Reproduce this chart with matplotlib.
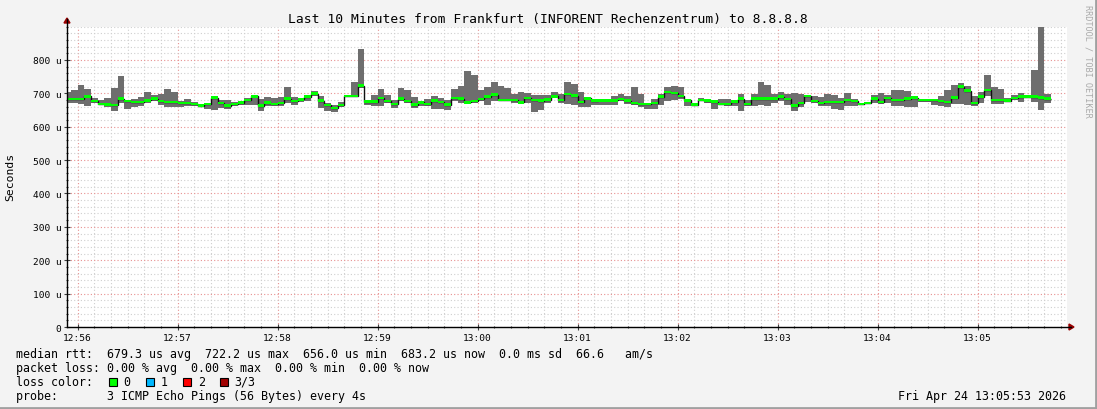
import numpy as np
import matplotlib
matplotlib.use('Agg')
import matplotlib.pyplot as plt
from matplotlib.lines import Line2D
from matplotlib.patches import Rectangle, Polygon
from matplotlib.ticker import MultipleLocator, FixedLocator

# ---------------- data (microseconds) ----------------
step_seconds = 4
first_edge_s = -8          # seconds relative to 12:56:00
rtt_max = [703, 710, 725, 713, 686, 680, 686, 716, 752, 680, 682, 688, 703, 696, 698, 713, 703, 676, 682, 674,
           668, 670, 690, 680, 680, 675, 678, 686, 695, 683, 689, 686, 689, 720, 689, 686, 695, 707, 692, 672,
           665, 674, 694, 734, 833, 680, 695, 713, 695, 680, 716, 710, 689, 678, 682, 692, 686, 680, 713, 722,
           767, 756, 710, 719, 734, 722, 716, 698, 704, 701, 696, 696, 696, 704, 698, 734, 728, 704, 689, 682,
           682, 682, 692, 698, 692, 719, 698, 672, 682, 698, 719, 722, 719, 682, 672, 686, 682, 680, 682, 682,
           680, 698, 680, 698, 734, 725, 698, 704, 698, 701, 698, 695, 692, 689, 698, 695, 686, 701, 683, 671,
           674, 695, 701, 695, 710, 710, 707, 692, 683, 683, 683, 692, 710, 725, 731, 722, 692, 704, 755, 719,
           713, 686, 695, 701, 695, 770, 900, 698]
rtt_median = [683, 683, 683, 691, 677, 668, 667, 665, 684, 677, 674, 674, 679, 684, 677, 674, 674, 671, 671, 668,
              663, 668, 687, 671, 663, 668, 672, 680, 691, 663, 672, 668, 671, 684, 677, 682, 690, 699, 678, 665,
              656, 665, 692, 692, 723, 675, 675, 686, 677, 668, 684, 677, 666, 673, 668, 678, 674, 666, 686, 684,
              673, 677, 683, 690, 696, 680, 680, 680, 673, 686, 680, 678, 681, 691, 680, 698, 693, 674, 685, 678,
              679, 679, 679, 683, 678, 671, 668, 668, 671, 690, 704, 701, 692, 679, 666, 680, 678, 675, 668, 668,
              675, 684, 668, 684, 684, 684, 684, 690, 683, 663, 671, 692, 677, 671, 674, 674, 674, 680, 677, 668,
              671, 684, 674, 686, 680, 680, 684, 687, 680, 680, 680, 677, 674, 687, 720, 708, 671, 690, 710, 680,
              680, 678, 686, 690, 690, 690, 687, 684]
rtt_min = [670, 670, 668, 663, 671, 666, 660, 648, 672, 654, 660, 662, 670, 676, 666, 658, 658, 658, 662, 662,
           659, 654, 651, 656, 653, 663, 666, 665, 665, 648, 663, 663, 663, 670, 665, 674, 677, 692, 656, 648,
           645, 658, 689, 689, 715, 666, 662, 662, 671, 656, 678, 672, 656, 663, 663, 654, 652, 650, 676, 672,
           668, 672, 678, 665, 676, 676, 676, 671, 668, 672, 645, 650, 672, 686, 672, 668, 666, 660, 660, 666,
           666, 666, 666, 676, 668, 666, 660, 654, 654, 665, 678, 680, 682, 663, 663, 678, 671, 654, 666, 663,
           663, 648, 663, 663, 666, 663, 672, 676, 666, 648, 658, 674, 672, 663, 663, 654, 651, 663, 663, 665,
           668, 672, 668, 672, 663, 663, 660, 660, 675, 673, 666, 663, 658, 668, 668, 665, 663, 671, 693, 668,
           668, 675, 681, 675, 686, 675, 651, 670]

x_tick_labels = ['12:56', '12:57', '12:58', '12:59', '13:00', '13:01', '13:02', '13:03', '13:04', '13:05']
y_tick_values = [0, 100, 200, 300, 400, 500, 600, 700, 800]
y_tick_labels = ['0', '100 u', '200 u', '300 u', '400 u', '500 u', '600 u', '700 u', '800 u']

title = 'Last 10 Minutes from Frankfurt (INFORENT Rechenzentrum) to 8.8.8.8'
legend_lines = [
    'median rtt:  679.3 us avg  722.2 us max  656.0 us min  683.2 us now  0.0 ms sd  66.6   am/s',
    'packet loss: 0.00 % avg  0.00 % max  0.00 % min  0.00 % now',
    'loss color:',
    'probe:       3 ICMP Echo Pings (56 Bytes) every 4s',
]
loss_labels = ['0', '1', '2', '3/3']
loss_colors = ['#00ff00', '#00b8ff', '#ff0000', '#a00000']
date_text = 'Fri Apr 24 13:05:53 2026'

# ---------------- layout ----------------
W, H = 1097, 410
BG = '#f3f3f3'
MONO = 'DejaVu Sans Mono'
LEG_FS = 8.4

fig = plt.figure(figsize=(W / 100, H / 100), dpi=100, facecolor=BG)

def fx(x):
    return x / W

def fy(y):
    return 1 - y / H

left_px, right_px, top_px, bottom_px = 67, 1067, 27.5, 328
ax = fig.add_axes([fx(left_px), fy(bottom_px), fx(right_px - left_px), (bottom_px - top_px) / H])
ax.set_facecolor('white')

x_min_s = -6.4
x_max_s = 593.6
ax.set_xlim(x_min_s, x_max_s)
ax.set_ylim(0, 900)

edges = first_edge_s + step_seconds * np.arange(len(rtt_median) + 1)
med = np.array(rtt_median, dtype=float)

ax.stairs(np.array(rtt_max, float), edges, baseline=np.array(rtt_min, float), fill=True,
          color='#6e6e6e', lw=0, zorder=2)
ax.stairs(med, edges, baseline=None, color='#101010', lw=1.0, zorder=3)
band = 3.8
ax.stairs(med + band, edges, baseline=med - band, fill=True, color='#00ff00', lw=0, zorder=4)

# grid
ax.xaxis.set_major_locator(FixedLocator(np.arange(0, 541, 60)))
ax.xaxis.set_minor_locator(MultipleLocator(10))
ax.yaxis.set_major_locator(FixedLocator(y_tick_values))
ax.yaxis.set_minor_locator(MultipleLocator(20))
ax.grid(True, which='minor', color='#cfcfcf', lw=0.8, ls=(0, (1, 2)), zorder=0)
ax.grid(True, which='major', color='#e89090', lw=0.8, ls=(0, (1, 2)), zorder=0)
ax.set_axisbelow(True)

ax.set_xticklabels(x_tick_labels)
ax.set_yticklabels(y_tick_labels)
ax.tick_params(axis='both', which='both', direction='inout', color='#404040', width=0.8)
ax.tick_params(axis='both', which='major', length=4, labelsize=6.8, pad=2, labelcolor='#000000')
ax.tick_params(axis='both', which='minor', length=2)
for lab in ax.get_xticklabels() + ax.get_yticklabels():
    lab.set_family(MONO)
for s in ax.spines.values():
    s.set_visible(False)

# axis lines + arrows
fig.add_artist(Line2D([fx(left_px), fx(1071)], [fy(bottom_px), fy(bottom_px)], color='#000000', lw=1.0))
fig.add_artist(Line2D([fx(left_px), fx(left_px)], [fy(bottom_px), fy(20)], color='#000000', lw=1.0))
arrow_c = '#9a0000'
fig.add_artist(Polygon([[fx(1069), fy(325)], [fx(1069), fy(331)], [fx(1074), fy(328)]],
                       closed=True, color=arrow_c, transform=fig.transFigure))
fig.add_artist(Polygon([[fx(64), fy(24)], [fx(70), fy(24)], [fx(67), fy(19)]],
                       closed=True, color=arrow_c, transform=fig.transFigure))

# title & labels
fig.text(fx(548), fy(19), title, family=MONO, fontsize=9.4, ha='center', va='center', color='#000000')
fig.text(fx(10), fy(177), 'Seconds', family=MONO, fontsize=8.2, rotation=90, ha='center', va='center')
fig.text(fx(1088), fy(5), 'RRDTOOL / TOBI OETIKER', family=MONO, fontsize=6.1, rotation=-90,
         ha='center', va='top', color='#aaaaaa')

# legend
line_y = [354.5, 368.5, 382.5, 396.5]
for txt, yy in zip(legend_lines, line_y):
    fig.text(fx(16), fy(yy), txt, family=MONO, fontsize=LEG_FS, ha='left', va='center')
box_x = [108.5, 146, 183, 220]
text_x = [123, 160.7, 197.8, 234]
for bx, tx, lab, col in zip(box_x, text_x, loss_labels, loss_colors):
    fig.add_artist(Rectangle((fx(bx), fy(386.5)), fx(8), 8 / H, facecolor=col, edgecolor='#000000',
                             lw=0.8, transform=fig.transFigure))
    fig.text(fx(tx), fy(382.5), lab, family=MONO, fontsize=LEG_FS, ha='left', va='center')
fig.text(fx(1066), fy(396.5), date_text, family=MONO, fontsize=LEG_FS, ha='right', va='center')

# image border (3D style)
fig.add_artist(Line2D([0, 1], [fy(409), fy(409)], color='#a0a0a0', lw=2.0))
fig.add_artist(Line2D([fx(1096), fx(1096)], [0, 1], color='#a0a0a0', lw=2.0))

fig.savefig('out.png', dpi=100, facecolor=BG)
